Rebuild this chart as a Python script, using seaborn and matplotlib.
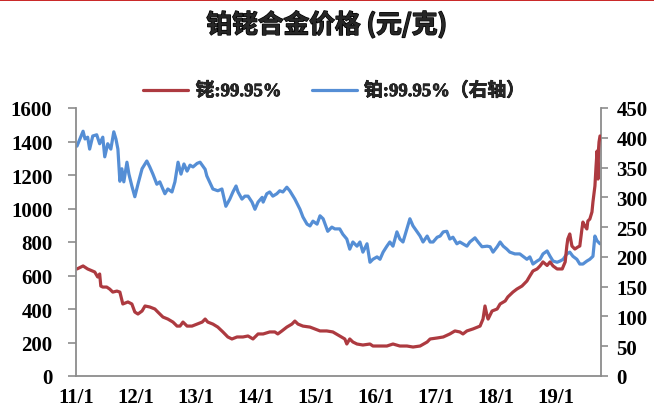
import matplotlib
matplotlib.use("Agg")
import matplotlib.pyplot as plt
import matplotlib.patheffects as pe
from matplotlib.lines import Line2D
import seaborn as sns
import pandas as pd

# 铑 99.95% (元/克, 左轴)
rh_dates = [
    "2011-01-07", "2011-02-13", "2011-03-13", "2011-04-25", "2011-05-13", "2011-05-25",
    "2011-06-01", "2011-06-13", "2011-07-07", "2011-07-25", "2011-08-13", "2011-09-07",
    "2011-09-25", "2011-10-13", "2011-11-13", "2011-12-07", "2011-12-25", "2012-01-13",
    "2012-02-07", "2012-02-25", "2012-03-25", "2012-04-25", "2012-05-13", "2012-06-13",
    "2012-07-13", "2012-08-13", "2012-09-07", "2012-09-25", "2012-10-13", "2012-11-07",
    "2012-12-07", "2013-01-07", "2013-02-07", "2013-02-25", "2013-03-13", "2013-04-13",
    "2013-05-13", "2013-06-13", "2013-07-13", "2013-08-07", "2013-09-07", "2013-10-13",
    "2013-11-13", "2013-12-13", "2014-01-13", "2014-02-13", "2014-03-25", "2014-04-25",
    "2014-05-13", "2014-06-07", "2014-07-07", "2014-08-07", "2014-08-25", "2014-09-13",
    "2014-10-13", "2014-11-25", "2014-12-25", "2015-01-25", "2015-03-07", "2015-04-13",
    "2015-05-25", "2015-06-25", "2015-07-07", "2015-07-25", "2015-08-13", "2015-09-07",
    "2015-10-13", "2015-11-25", "2015-12-13", "2016-01-25", "2016-03-07", "2016-04-13",
    "2016-05-25", "2016-07-07", "2016-08-13", "2016-09-25", "2016-11-07", "2016-11-25",
    "2017-01-07", "2017-02-13", "2017-03-25", "2017-04-25", "2017-05-25", "2017-06-13",
    "2017-07-07", "2017-08-13", "2017-09-25", "2017-10-13", "2017-10-25", "2017-11-07",
    "2017-11-13", "2017-12-07", "2018-01-07", "2018-01-25", "2018-02-25", "2018-03-13",
    "2018-04-13", "2018-05-07", "2018-06-07", "2018-07-07", "2018-07-25", "2018-08-13",
    "2018-09-07", "2018-09-25", "2018-10-13", "2018-11-07", "2018-11-25", "2018-12-13",
    "2019-01-07", "2019-02-07", "2019-02-25", "2019-03-07", "2019-03-13", "2019-03-25",
    "2019-04-07", "2019-04-25", "2019-05-13", "2019-05-25", "2019-06-07", "2019-06-13",
    "2019-06-25", "2019-07-07", "2019-07-13", "2019-07-25", "2019-08-07", "2019-08-13",
    "2019-08-25", "2019-09-01", "2019-09-07", "2019-09-13", "2019-09-16", "2019-09-19",
    "2019-09-25",
]
rh_values = [
    639, 657, 639, 621, 591, 609,
    537, 531, 531, 519, 501, 507,
    501, 430, 442, 430, 382, 370,
    388, 418, 412, 400, 382, 352,
    340, 322, 298, 298, 322, 298,
    298, 310, 322, 340, 322, 310,
    292, 263, 233, 221, 233, 233,
    239, 221, 251, 251, 263, 263,
    251, 269, 292, 310, 328, 310,
    298, 292, 281, 269, 269, 263,
    239, 221, 191, 221, 203, 191,
    185, 191, 179, 179, 179, 191,
    179, 179, 173, 179, 203, 221,
    227, 233, 251, 269, 263, 251,
    269, 281, 298, 340, 418, 358,
    340, 388, 400, 430, 448, 472,
    501, 519, 537, 567, 597, 627,
    639, 657, 681, 660, 681, 657,
    639, 639, 681, 776, 818, 848,
    776, 758, 770, 776, 878, 919,
    895, 878, 925, 937, 979, 1039,
    1134, 1254, 1343, 1176, 1355, 1397,
    1433,
]

# 铂 99.95% (元/克, 右轴)
pt_dates = [
    "2011-01-07", "2011-02-13", "2011-02-25", "2011-03-13", "2011-03-25", "2011-04-13",
    "2011-05-07", "2011-05-25", "2011-06-13", "2011-06-25", "2011-07-13", "2011-08-01",
    "2011-08-19", "2011-09-01", "2011-09-13", "2011-09-25", "2011-10-07", "2011-10-19",
    "2011-11-07", "2011-11-19", "2011-12-07", "2011-12-25", "2012-01-13", "2012-02-07",
    "2012-03-07", "2012-03-25", "2012-04-13", "2012-05-07", "2012-05-25", "2012-06-25",
    "2012-07-13", "2012-08-07", "2012-08-25", "2012-09-13", "2012-10-01", "2012-10-19",
    "2012-11-07", "2012-11-25", "2012-12-13", "2013-01-07", "2013-01-25", "2013-02-25",
    "2013-03-07", "2013-04-13", "2013-05-13", "2013-06-07", "2013-07-01", "2013-07-25",
    "2013-08-13", "2013-09-01", "2013-09-13", "2013-10-07", "2013-10-25", "2013-11-13",
    "2013-12-07", "2013-12-25", "2014-01-13", "2014-02-07", "2014-02-13", "2014-03-07",
    "2014-03-25", "2014-04-13", "2014-05-07", "2014-05-25", "2014-06-13", "2014-07-07",
    "2014-07-25", "2014-08-25", "2014-09-25", "2014-10-13", "2014-11-07", "2014-11-25",
    "2014-12-13", "2015-01-07", "2015-01-25", "2015-02-13", "2015-03-13", "2015-04-07",
    "2015-04-25", "2015-05-25", "2015-06-13", "2015-07-07", "2015-07-25", "2015-08-13",
    "2015-09-07", "2015-09-25", "2015-10-13", "2015-11-07", "2015-11-25", "2015-12-13",
    "2016-01-07", "2016-01-25", "2016-02-13", "2016-03-07", "2016-03-25", "2016-04-13",
    "2016-05-07", "2016-05-25", "2016-06-13", "2016-07-07", "2016-07-25", "2016-08-13",
    "2016-09-07", "2016-09-25", "2016-10-13", "2016-11-07", "2016-11-25", "2016-12-13",
    "2017-01-07", "2017-01-25", "2017-02-13", "2017-03-07", "2017-03-25", "2017-04-13",
    "2017-05-07", "2017-05-25", "2017-06-13", "2017-07-07", "2017-07-25", "2017-08-25",
    "2017-09-13", "2017-10-07", "2017-11-07", "2017-11-25", "2017-12-13", "2018-01-07",
    "2018-01-25", "2018-02-13", "2018-03-07", "2018-03-25", "2018-04-25", "2018-05-25",
    "2018-06-13", "2018-07-07", "2018-07-25", "2018-08-13", "2018-09-07", "2018-09-25",
    "2018-10-13", "2018-11-07", "2018-11-25", "2018-12-13", "2019-01-07", "2019-01-25",
    "2019-02-13", "2019-03-07", "2019-03-25", "2019-04-13", "2019-05-07", "2019-05-25",
    "2019-06-13", "2019-07-07", "2019-07-25", "2019-08-13", "2019-08-25", "2019-09-07",
    "2019-09-25",
]
pt_values = [
    386, 411, 398, 401, 381, 403,
    405, 390, 401, 368, 390, 381,
    410, 398, 381, 327, 348, 326,
    359, 339, 319, 301, 322, 348,
    361, 351, 339, 322, 326, 306,
    314, 309, 326, 359, 339, 356,
    344, 354, 351, 357, 359, 347,
    336, 314, 311, 314, 285, 297,
    309, 319, 309, 297, 302, 302,
    292, 280, 292, 300, 292, 306,
    309, 302, 306, 311, 309, 317,
    311, 297, 280, 267, 255, 252,
    260, 255, 269, 264, 243, 250,
    247, 247, 238, 230, 213, 225,
    218, 225, 208, 222, 191, 196,
    200, 196, 208, 218, 225, 218,
    242, 230, 225, 247, 264, 252,
    242, 235, 225, 235, 225, 225,
    233, 235, 242, 243, 230, 233,
    222, 225, 222, 218, 225, 232,
    225, 217, 218, 217, 208, 217,
    225, 218, 213, 208, 205, 205,
    201, 196, 200, 188, 193, 196,
    205, 210, 201, 193, 191, 193,
    196, 205, 208, 201, 196, 188,
    188, 193, 196, 201, 235, 227,
    222,
]

tick_dates = ["2011-01-01", "2012-01-01", "2013-01-01", "2014-01-01", "2015-01-01",
              "2016-01-01", "2017-01-01", "2018-01-01", "2019-01-01"]
tick_labels = ["11/1", "12/1", "13/1", "14/1", "15/1", "16/1", "17/1", "18/1", "19/1"]
left_ticks = [0, 200, 400, 600, 800, 1000, 1200, 1400, 1600]
right_ticks = [0, 50, 100, 150, 200, 250, 300, 350, 400, 450]

title = "铂铑合金价格 (元/克)"
rh_label = "铑:99.95%"
pt_label = "铂:99.95%（右轴）"

RED = "#AD3A40"
BLUE = "#558ED5"
SPINE = "#8C8C8C"

sns.set_theme(style="white")
plt.rcParams["font.family"] = ["Liberation Serif", "Noto Sans CJK SC"]
plt.rcParams["font.weight"] = "bold"

rh = pd.DataFrame({"date": pd.to_datetime(rh_dates), "price": rh_values})
pt = pd.DataFrame({"date": pd.to_datetime(pt_dates), "price": pt_values})

fig = plt.figure(figsize=(6.54, 4.10), dpi=100)
ax = fig.add_axes([76 / 654, 1 - 377 / 410, (601 - 76) / 654, (377 - 109) / 410])
ax2 = ax.twinx()

sns.lineplot(data=pt, x="date", y="price", ax=ax2, color=BLUE, linewidth=2.3)
sns.lineplot(data=rh, x="date", y="price", ax=ax, color=RED, linewidth=2.3)

# red series drawn above the blue one
ax.set_zorder(ax2.get_zorder() + 1)
ax.patch.set_visible(False)

ax.set_xlim(pd.Timestamp("2011-01-01"), pd.Timestamp("2019-10-01"))
ax.set_ylim(0, 1600)
ax2.set_ylim(0, 450)
ax.set_xticks(pd.to_datetime(tick_dates))
ax.set_xticklabels(tick_labels)
ax.set_yticks(left_ticks)
ax2.set_yticks(right_ticks)
ax.set_xlabel("")
ax.set_ylabel("")
ax2.set_ylabel("")

for a in (ax, ax2):
    a.grid(False)
    a.spines["top"].set_visible(False)
    for side in ("left", "right", "bottom"):
        a.spines[side].set_color(SPINE)
        a.spines[side].set_linewidth(1.3)
ax.spines["right"].set_visible(False)
ax2.spines["left"].set_visible(False)
ax2.spines["bottom"].set_visible(False)

ax.tick_params(axis="y", direction="out", length=6, width=1.2, color=SPINE,
               labelsize=15, pad=11)
ax.tick_params(axis="x", direction="out", length=4, width=1.2, color=SPINE,
               labelsize=15, pad=4)
ax2.tick_params(axis="y", direction="out", length=5, width=1.2, color=SPINE,
                labelsize=15, pad=6)
for lab in ax.get_xticklabels() + ax.get_yticklabels() + ax2.get_yticklabels():
    lab.set_fontweight("bold")
    lab.set_color("black")

handles = [Line2D([], [], color=RED, linewidth=2.3),
           Line2D([], [], color=BLUE, linewidth=2.3)]
leg = fig.legend(handles, [rh_label, pt_label], loc="center",
                 bbox_to_anchor=(334 / 654, 1 - 92 / 410),
                 ncol=2, frameon=False, prop={"weight": "bold", "size": 13.5},
                 handlelength=2.4, columnspacing=1.6, handletextpad=0.4)
for t in leg.get_texts():
    t.set_path_effects([pe.withStroke(linewidth=0.5, foreground="black")])

title_text = fig.text(0.5, 1 - 26 / 410, title, ha="center", va="center", fontsize=18.5,
                      fontweight="heavy", family=["Noto Sans CJK SC", "Liberation Serif"])
title_text.set_path_effects([pe.withStroke(linewidth=1.0, foreground="black")])

# thin rule along the top edge
fig.add_artist(Line2D([0, 1], [0.998, 0.998], transform=fig.transFigure,
                      color="#C00000", linewidth=1.2))

fig.savefig("out.png", dpi=100)
